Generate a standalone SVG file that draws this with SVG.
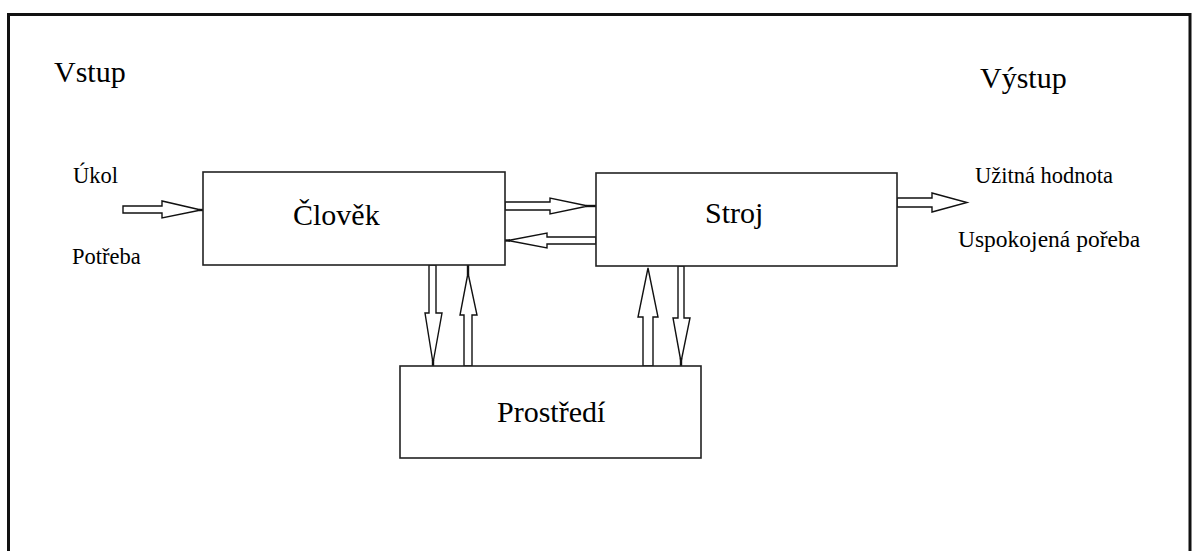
<svg xmlns="http://www.w3.org/2000/svg" width="1192" height="551" viewBox="0 0 1192 551">
  <style>
    .frame { fill: none; stroke: #111; stroke-width: 3; }
    .box { fill: #fff; stroke: #222; stroke-width: 1.6; }
    .arrow { fill: #fff; stroke: #111; stroke-width: 1.4; stroke-linejoin: miter; }
    .tipline { stroke: #111; stroke-width: 2.4; }
    .big { font-size: 30px; fill: #000; }
    .small { font-size: 22.5px; fill: #000; }
  </style>

  <rect x="0" y="0" width="1192" height="551" fill="#fff"/>
  <!-- outer frame, open at the bottom -->
  <path class="frame" d="M8.5,560 V14.5 H1190 V560"/>

  <!-- side headings and labels -->
  <g font-family="Liberation Serif, serif">
    <text class="big" x="54" y="82">Vstup</text>
    <text class="big" x="980" y="88">Výstup</text>
    <text class="small" x="73" y="183">Úkol</text>
    <text class="small" x="72" y="264">Potřeba</text>
    <text class="small" x="975" y="183" font-size="22">Užitná hodnota</text>
    <text class="small" x="958" y="247" font-size="23.5" style="font-size:23.5px">Uspokojená pořeba</text>
  </g>

  <g id="connectors">
    <!-- input into Člověk -->
    <polygon class="arrow" points="123,206 162,206 162,201 201,210 162,218 162,213 123,213"/>
    <line class="tipline" x1="199" y1="210" x2="203" y2="210"/>
    <!-- Člověk to Stroj -->
    <polygon class="arrow" points="505,202 550,202 550,198 588,206 550,214 550,210 505,210"/>
    <line class="tipline" x1="586" y1="206" x2="596" y2="206"/>
    <!-- Stroj back to Člověk -->
    <polygon class="arrow" points="596,237 547,237 547,233 508,240.5 547,248 547,244 596,244"/>
    <line class="tipline" x1="500" y1="240.5" x2="510" y2="240.5"/>
    <!-- output from Stroj -->
    <polygon class="arrow" points="897,198 932,198 932,193 967,202.5 932,212 932,207 897,207"/>
    <!-- Člověk down to Prostředí -->
    <polygon class="arrow" points="429,265 436,265 436,313 442,313 433,363 425,313 429,313"/>
    <line class="tipline" x1="433" y1="360" x2="433" y2="366"/>
    <!-- Prostředí up to Člověk -->
    <polygon class="arrow" points="464,366 472,366 472,315 477,315 468,273 460,315 464,315"/>
    <line class="tipline" x1="468" y1="265" x2="468" y2="275"/>
    <!-- Prostředí up to Stroj -->
    <polygon class="arrow" points="643,366 653,366 653,317 658,317 648,268 638,317 643,317"/>
    <!-- Stroj down to Prostředí -->
    <polygon class="arrow" points="678,266 684,266 684,318 690,318 681,362 673,318 678,318"/>
    <line class="tipline" x1="681" y1="358" x2="681" y2="367"/>
  </g>

  <g id="clovek">
    <rect class="box" x="203" y="172" width="302" height="93"/>
    <text class="big" x="293" y="225" font-family="Liberation Serif, serif">Člověk</text>
  </g>
  <g id="stroj">
    <rect class="box" x="596" y="173" width="301" height="93"/>
    <text class="big" x="705" y="223" font-family="Liberation Serif, serif">Stroj</text>
  </g>
  <g id="prostredi">
    <rect class="box" x="400" y="366" width="301" height="92"/>
    <text class="big" x="497" y="422" font-family="Liberation Serif, serif">Prostředí</text>
  </g>
</svg>
